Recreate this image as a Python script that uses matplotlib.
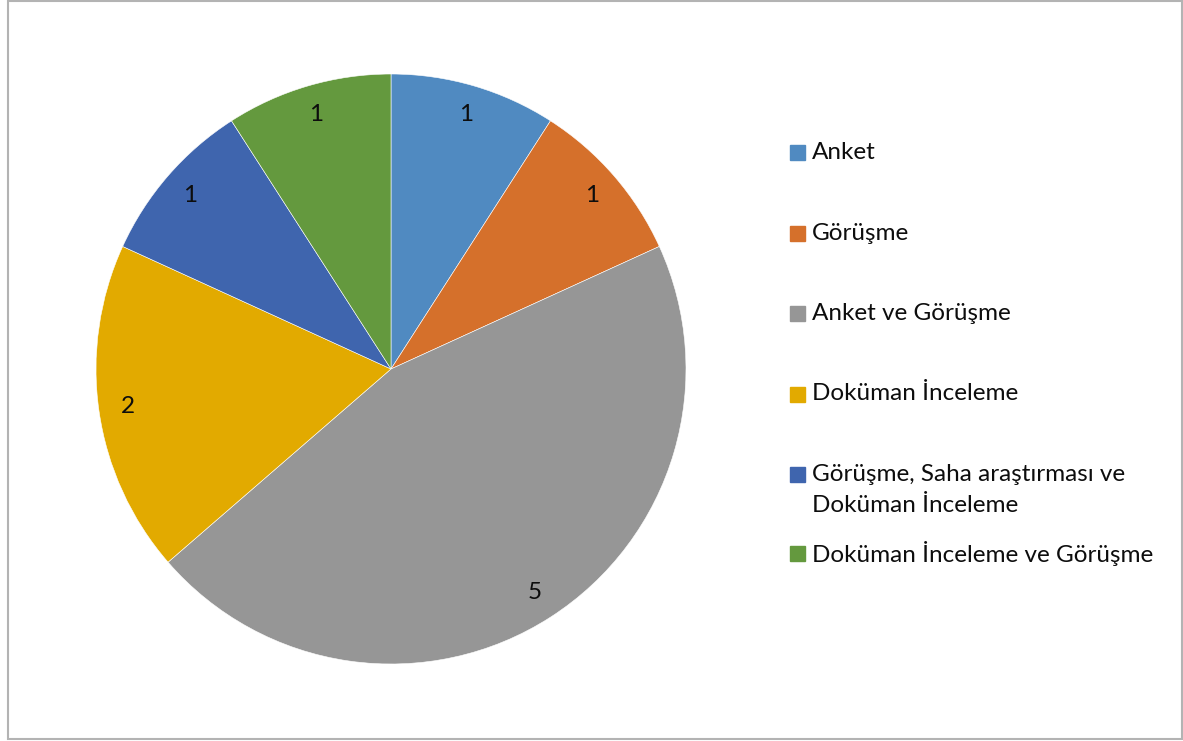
import matplotlib
matplotlib.use("Agg")
import matplotlib.pyplot as plt
from matplotlib.patches import Rectangle

# Données du graphique
categories = ["Anket", "Görüşme", "Anket ve Görüşme", "Doküman İnceleme",
              "Görüşme, Saha araştırması ve\nDoküman İnceleme",
              "Doküman İnceleme ve Görüşme"]
values = [1, 1, 5, 2, 1, 1]
colors = ["#508AC1", "#D5702B", "#969696", "#E2AA00", "#3F65AE", "#64993E"]

plt.rcParams['font.family'] = ['Lato', 'DejaVu Sans']

W, H = 1183, 741
fig = plt.figure(figsize=(W / 100, H / 100), dpi=100)

# Cadre gris autour du graphique
fig.patches.append(Rectangle((7.5 / W, 2 / H), (1182 - 7.5) / W, (740 - 2) / H,
                             transform=fig.transFigure, fill=False,
                             edgecolor="#B3B3B3", linewidth=1.5))

cx, cy, r = 391, 369, 295
ax = fig.add_axes([(cx - r) / W, (H - cy - r) / H, 2 * r / W, 2 * r / H])
wedges, texts = ax.pie(values, colors=colors, startangle=90, counterclock=False,
                       labels=[str(v) for v in values], labeldistance=0.9,
                       wedgeprops=dict(edgecolor="white", linewidth=0.4),
                       textprops=dict(fontsize=17.5, color="#0D0D0D"))
for t in texts:
    t.set_ha("center")
    t.set_va("center")
ax.set_xlim(-1, 1)
ax.set_ylim(-1, 1)
ax.set_aspect("auto")
ax.axis("off")

# Légende placée à la main (comme dans Excel)
legend_y = [152.5, 233.5, 313, 394, 474.5, 553.5]
line_gap = 31.5
for lab, col, y in zip(categories, colors, legend_y):
    fig.patches.append(Rectangle((790 / W, (H - y - 7.5) / H), 15 / W, 15 / H,
                                 transform=fig.transFigure, color=col))
    for i, line in enumerate(lab.split("\n")):
        fig.text(812 / W, (H - y - i * line_gap) / H, line, fontsize=17.5,
                 color="#0D0D0D", va="center", transform=fig.transFigure)

fig.savefig("out.png", dpi=100)
